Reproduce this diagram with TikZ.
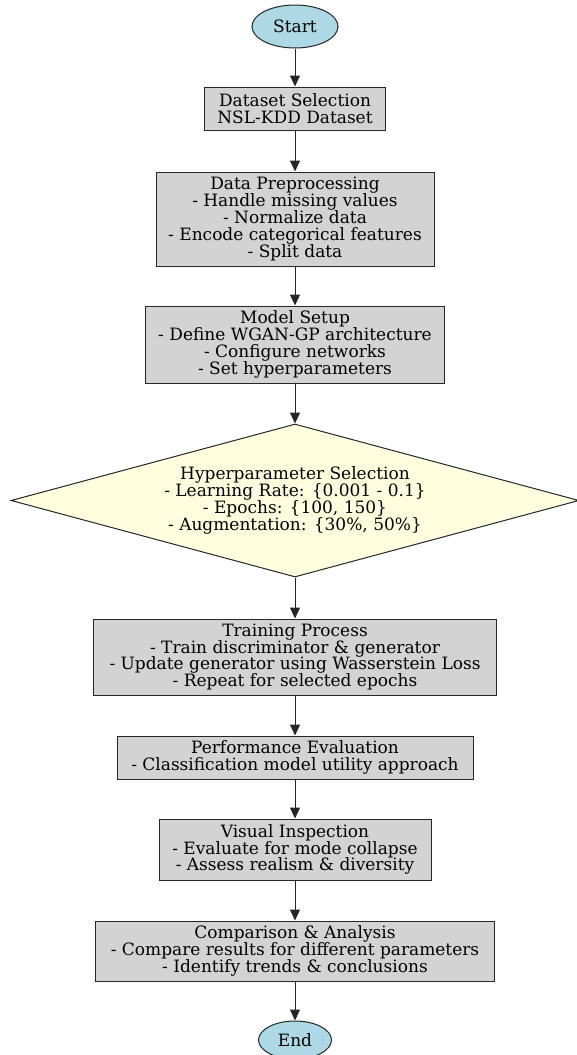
\documentclass[tikz,border=0pt]{standalone}
\usepackage{fontspec}
\setmainfont{DejaVu Serif}
\usetikzlibrary{shapes.geometric,arrows.meta}
\definecolor{lblue}{HTML}{ADD8E6}
\definecolor{lgray}{HTML}{D3D3D3}
\definecolor{lyellow}{HTML}{FFFFE0}
\tikzset{
  base/.style={draw=black!85, line width=1pt, align=center, inner sep=0pt,
    font=\fontsize{17}{16.8}\selectfont},
  oval/.style={base, ellipse, fill=lblue},
  procbox/.style={base, rectangle, fill=lgray},
  decide/.style={base, diamond, fill=lyellow, aspect=3.7},
  flow/.style={draw=black!85, line width=1pt, -{Triangle[length=11pt,width=10pt]}}
}
\begin{document}
\begin{tikzpicture}[x=1pt,y=-1pt]
\useasboundingbox (0,0) rectangle (577,1055);
\node[oval, minimum width=86pt, minimum height=43pt] (start) at (295,26.5) {Start};
\node[procbox, minimum width=181pt, minimum height=43pt] (ds) at (295,108.5) {Dataset Selection\\NSL-KDD Dataset};
\node[procbox, minimum width=278pt, minimum height=94pt] (pre) at (295,219) {Data Preprocessing\\- Handle missing values\\- Normalize data\\- Encode categorical features\\- Split data};
\node[procbox, minimum width=299pt, minimum height=77pt] (model) at (295,344.5) {Model Setup\\- Define WGAN-GP architecture\\- Configure networks\\- Set hyperparameters};
\node[decide, minimum width=568pt, minimum height=153pt] (hyp) at (295,500.5) {Hyperparameter Selection\\- Learning Rate: \{0.001 - 0.1\}\\- Epochs: \{100, 150\}\\- Augmentation: \{30\%, 50\%\}};
\node[procbox, minimum width=403pt, minimum height=76pt] (train) at (295,657) {Training Process\\- Train discriminator \& generator\\- Update generator using Wasserstein Loss\\- Repeat for selected epochs};
\node[procbox, minimum width=356pt, minimum height=43pt] (perf) at (295,757.5) {Performance Evaluation\\- Classification model utility approach};
\node[procbox, minimum width=272pt, minimum height=61pt] (vis) at (295,849.5) {Visual Inspection\\- Evaluate for mode collapse\\- Assess realism \& diversity};
\node[procbox, minimum width=399pt, minimum height=60pt] (comp) at (295,951) {Comparison \& Analysis\\- Compare results for different parameters\\- Identify trends \& conclusions};
\node[oval, minimum width=73pt, minimum height=38pt] (end) at (295,1040) {End};
\draw[flow] (start) -- (ds);
\draw[flow] (ds) -- (pre);
\draw[flow] (pre) -- (model);
\draw[flow] (model) -- (hyp);
\draw[flow] (hyp) -- (train);
\draw[flow] (train) -- (perf);
\draw[flow] (perf) -- (vis);
\draw[flow] (vis) -- (comp);
\draw[flow] (comp) -- (end);
\end{tikzpicture}
\end{document}
